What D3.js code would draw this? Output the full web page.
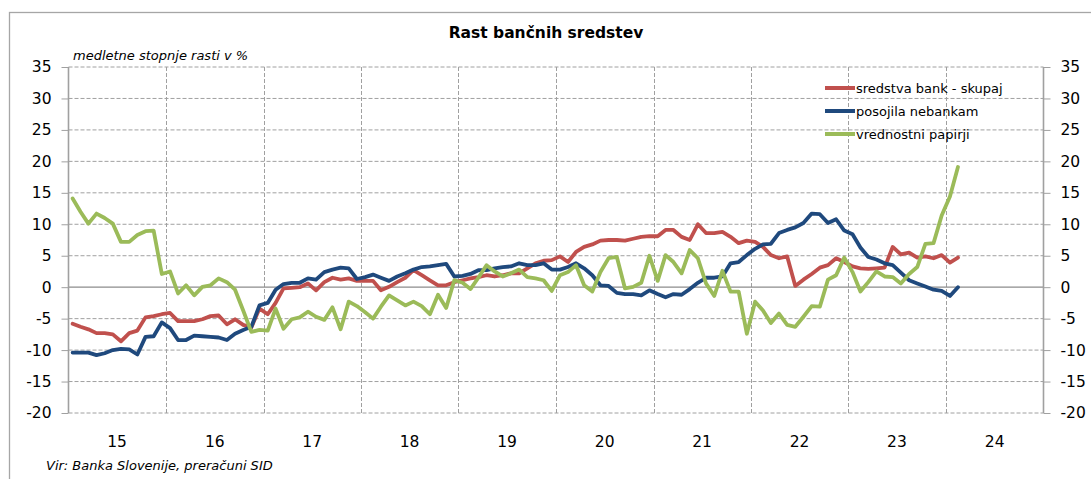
<!DOCTYPE html>
<html>
<head>
<meta charset="utf-8">
<script src="https://cdn.jsdelivr.net/npm/d3@7"></script>
<style>
  body { margin: 0; background: #fff; }
  svg { display: block; }
  text { font-family: "DejaVu Sans", Verdana, sans-serif; fill: #000; }
</style>
</head>
<body>
<svg id="chart" width="1091" height="479"></svg>
<script>
// Annual growth rates of bank assets, monthly, Jan 2015 – Feb 2024 (%)
const chartTitle = "Rast bančnih sredstev";
const axisNote = "medletne stopnje rasti v %";
const sourceNote = "Vir: Banka Slovenije, preračuni SID";

const seriesNames = ["sredstva bank - skupaj", "posojila nebankam", "vrednostni papirji"];
const firstMonth = new Date(2015, 0, 1);

const totalAssets = [
  -5.8, -6.3, -6.7, -7.3, -7.3, -7.5, -8.6, -7.3, -6.9, -4.8, -4.6, -4.3,
  -4.1, -5.4, -5.4, -5.4, -5.1, -4.6, -4.5, -5.9, -5.1, -6.0, -6.4, -3.4,
  -4.3, -2.5, -0.2, -0.1, 0.0, 0.6, -0.5, 0.8, 1.5, 1.2, 1.4, 1.0,
  1.0, 1.0, -0.5, 0.05, 0.8, 1.5, 2.7, 1.9, 1.1, 0.3, 0.3, 0.8,
  1.1, 1.4, 1.6, 1.9, 1.7, 1.9, 2.2, 2.2, 3.0, 3.8, 4.2, 4.3,
  4.9, 4.0, 5.6, 6.4, 6.8, 7.4, 7.5, 7.5, 7.4, 7.7, 8.0, 8.1,
  8.1, 9.1, 9.1, 8.0, 7.5, 10.0, 8.6, 8.6, 8.8, 8.0, 7.0, 7.4,
  7.2, 6.4, 5.1, 4.6, 4.9, 0.2, 1.2, 2.1, 3.1, 3.5, 4.6, 4.0,
  3.3, 3.0, 2.9, 3.0, 3.1, 6.4, 5.2, 5.5, 4.7, 4.9, 4.6, 5.1,
  3.9, 4.7
];

const loansNonBanks = [
  -10.4, -10.4, -10.4, -10.8, -10.5, -10.0, -9.8, -9.9, -10.7, -7.9, -7.8, -5.6,
  -6.5, -8.4, -8.4, -7.7, -7.8, -7.9, -8.0, -8.4, -7.4, -6.8, -6.3, -2.9,
  -2.5, -0.4, 0.5, 0.7, 0.7, 1.4, 1.2, 2.4, 2.8, 3.1, 3.0, 1.3,
  1.6, 2.0, 1.5, 1.0, 1.7, 2.2, 2.8, 3.2, 3.3, 3.5, 3.7, 1.7,
  1.8, 2.1, 2.7, 2.7, 3.0, 3.2, 3.3, 3.8, 3.5, 3.5, 3.8, 2.8,
  2.8, 3.2, 3.8, 3.0, 1.9, 0.3, 0.2, -0.9, -1.1, -1.1, -1.3, -0.5,
  -1.1, -1.6, -1.1, -1.2, -0.3, 0.7, 1.5, 1.5, 1.7, 3.8, 4.0, 5.1,
  6.1, 6.8, 6.9, 8.6, 9.1, 9.5, 10.2, 11.7, 11.6, 10.2, 10.8, 9.0,
  8.4, 6.3, 4.8, 4.4, 3.8, 3.5, 2.3, 1.1, 0.6, 0.1, -0.4, -0.6,
  -1.4, 0.0
];

const securities = [
  14.1, 12.0, 10.1, 11.7, 11.0, 10.1, 7.2, 7.2, 8.3, 8.9, 9.0, 2.1,
  2.5, -1.0, 0.3, -1.3, 0.05, 0.3, 1.4, 0.8, -0.4, -3.7, -7.1, -6.8,
  -6.9, -3.4, -6.6, -5.1, -4.8, -3.9, -4.7, -5.2, -3.2, -6.7, -2.3, -3.0,
  -4.0, -5.0, -3.1, -1.3, -2.1, -2.9, -2.3, -3.0, -4.3, -1.2, -3.3, 1.1,
  0.7, -0.3, 1.5, 3.5, 2.5, 1.7, 2.2, 2.8, 1.6, 1.4, 1.1, -0.6,
  1.9, 2.4, 3.5, 0.3, -0.7, 2.4, 4.6, 4.8, -0.2, 0.05, 0.7, 5.0,
  1.0, 5.1, 4.0, 2.2, 5.9, 4.6, 0.6, -1.4, 2.6, -0.7, -0.7, -7.4,
  -2.3, -3.7, -5.7, -4.2, -6.0, -6.3, -4.7, -3.0, -3.1, 1.2, 1.9, 4.7,
  2.4, -0.7, 0.8, 2.5, 1.7, 1.6, 0.6, 2.1, 3.2, 6.9, 7.0, 11.4,
  14.4, 19.1
];

const yearLabels = ["15", "16", "17", "18", "19", "20", "21", "22", "23", "24"];
const yTicks = [-20, -15, -10, -5, 0, 5, 10, 15, 20, 25, 30, 35];

const colors = ["#C0504D", "#1F497D", "#9BBB59"];
const seriesValues = [totalAssets, loansNonBanks, securities];

const svg = d3.select("#chart");
const W = 1091, H = 479;
const plot = { left: 68.5, right: 1043.5, top: 67, bottom: 413 };

svg.append("rect").attr("width", W).attr("height", H).attr("fill", "#fff");
// outer frame
svg.append("rect")
  .attr("x", 9.5).attr("y", 12.5).attr("width", W + 20).attr("height", H + 20)
  .attr("fill", "none").attr("stroke", "#a6a6a6").attr("stroke-width", 1.3);

// monthly points sit in the middle of each month
const months = d3.timeMonth.range(firstMonth, d3.timeMonth.offset(firstMonth, totalAssets.length));
const midMonth = m => new Date((+m + +d3.timeMonth.offset(m, 1)) / 2);

const x = d3.scaleTime()
  .domain([new Date(2015, 0, 1), new Date(2025, 0, 1)])
  .range([plot.left, plot.right]);
const y = d3.scaleLinear().domain([-20, 35]).range([plot.bottom, plot.top]);

// horizontal grid
const g = svg.append("g");
g.selectAll("line.hgrid").data(yTicks.filter(v => v !== 0)).join("line")
  .attr("x1", plot.left).attr("x2", plot.right)
  .attr("y1", d => y(d)).attr("y2", d => y(d))
  .attr("stroke", "#a0a0a0").attr("stroke-width", 1).attr("stroke-dasharray", "4,2");

// vertical grid at year boundaries
const yearStarts = d3.range(1, yearLabels.length).map(k => new Date(2015 + k, 0, 1));
g.selectAll("line.vgrid").data(yearStarts).join("line")
  .attr("x1", d => Math.round(x(d)) + 0.5).attr("x2", d => Math.round(x(d)) + 0.5)
  .attr("y1", plot.top).attr("y2", plot.bottom)
  .attr("stroke", "#a0a0a0").attr("stroke-width", 1).attr("stroke-dasharray", "4,2");

// zero line
g.append("line")
  .attr("x1", plot.left).attr("x2", plot.right).attr("y1", y(0)).attr("y2", y(0))
  .attr("stroke", "#8c8c8c").attr("stroke-width", 1.2);

// left and right value axes (plain hyphen for negatives)
const fmt = d => String(d);
const leftAxis = d3.axisLeft(y).tickValues(yTicks).tickSize(7).tickPadding(10).tickFormat(fmt);
const rightAxis = d3.axisRight(y).tickValues(yTicks).tickSize(7).tickPadding(10).tickFormat(fmt);

function styleAxis(sel) {
  sel.select(".domain").attr("stroke", "#a0a0a0").attr("stroke-width", 1.6);
  sel.selectAll(".tick line").attr("stroke", "#a0a0a0");
  sel.selectAll(".tick text").attr("font-size", 15.5).attr("fill", "#000")
    .attr("font-family", "DejaVu Sans, sans-serif");
}
svg.append("g").attr("transform", `translate(${plot.left},0)`).call(leftAxis).call(styleAxis)
  .call(s => s.select(".domain").attr("d", `M0,${plot.top}V${plot.bottom}`));
svg.append("g").attr("transform", `translate(${plot.right},0)`).call(rightAxis).call(styleAxis)
  .call(s => s.select(".domain").attr("d", `M0,${plot.top}V${plot.bottom}`));

// year labels centred on each year
svg.append("g").selectAll("text").data(yearLabels).join("text")
  .attr("x", (d, k) => x(new Date(2015 + k, 6, 2)))
  .attr("y", 447)
  .attr("text-anchor", "middle")
  .attr("font-size", 15.5)
  .text(d => d);

// series lines
const line = d3.line()
  .x((d, i) => x(midMonth(months[i])))
  .y(d => y(d));

svg.append("g").selectAll("path").data(seriesValues).join("path")
  .attr("d", d => line(d))
  .attr("fill", "none")
  .attr("stroke", (d, k) => colors[k])
  .attr("stroke-width", 3.8)
  .attr("stroke-linejoin", "round")
  .attr("stroke-linecap", "round");

// legend
const legend = svg.append("g").attr("transform", "translate(825,0)");
const legendRows = [88, 111, 134];
seriesNames.forEach((name, k) => {
  legend.append("line")
    .attr("x1", 0).attr("x2", 30)
    .attr("y1", legendRows[k]).attr("y2", legendRows[k])
    .attr("stroke", colors[k]).attr("stroke-width", 4);
  legend.append("text")
    .attr("x", 31).attr("y", legendRows[k] + 4.5)
    .attr("font-size", 13)
    .attr("fill", "#1a1a1a")
    .text(name);
});

// titles and notes
svg.append("text")
  .attr("x", 546).attr("y", 38)
  .attr("text-anchor", "middle")
  .attr("font-size", 15.5).attr("font-weight", "bold")
  .text(chartTitle);

svg.append("text")
  .attr("x", 73).attr("y", 60)
  .attr("font-size", 13).attr("font-style", "italic")
  .text(axisNote);

svg.append("text")
  .attr("x", 46).attr("y", 470)
  .attr("font-size", 13).attr("font-style", "italic")
  .text(sourceNote);
</script>
</body>
</html>
